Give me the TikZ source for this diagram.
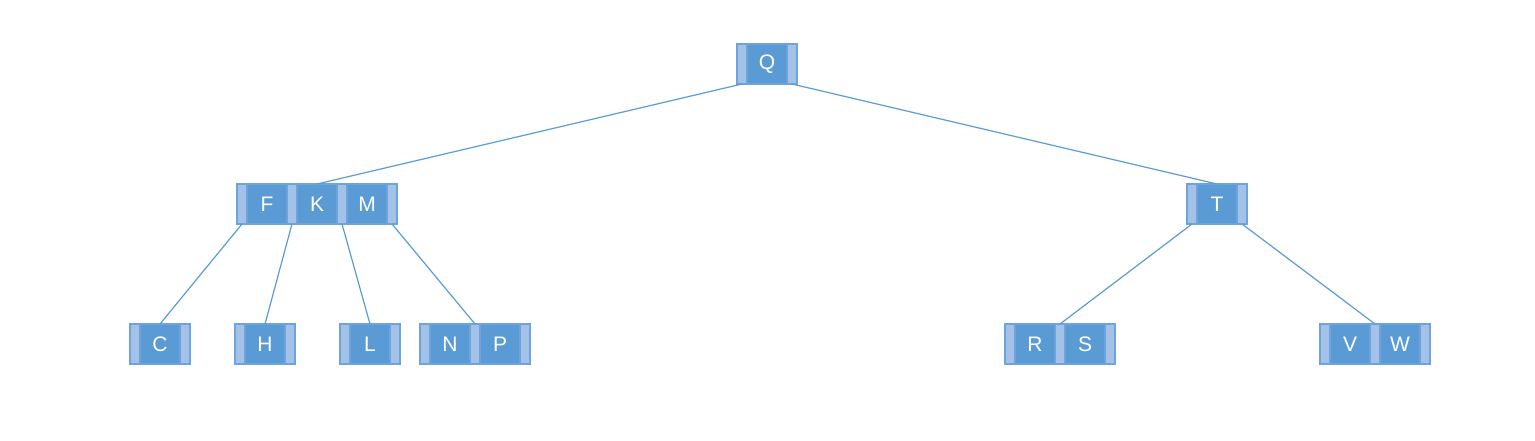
\documentclass[tikz,border=0pt]{standalone}
\usepackage{fontspec}
\setmainfont{Liberation Sans}
\usetikzlibrary{positioning}
\definecolor{keyblue}{HTML}{5B9BD5}
\definecolor{slotblue}{HTML}{A4C2E8}
\definecolor{rimblue}{HTML}{6FA3DC}
\definecolor{linkblue}{HTML}{5B9BD5}
% one b-tree node: name, left x, centre y, keys
\newcommand{\btnode}[4]{%
  \node[slot, anchor=west] (#1-s0) at (#2,#3) {};
  \foreach \lbl [count=\i from 1] in {#4}{
    \pgfmathtruncatemacro{\j}{\i-1}
    \node[keybox, right=0pt of #1-s\j] (#1-k\i) {\lbl};
    \node[slot, right=0pt of #1-k\i] (#1-s\i) {};
  }%
}
\begin{document}
\begin{tikzpicture}[
          x=0.5pt, y=-0.5pt,
          slot/.style={draw=rimblue, fill=slotblue, line width=0.6pt,
            minimum width=5pt, minimum height=20pt, inner sep=0pt, outer sep=0pt},
          keybox/.style={draw=rimblue, fill=keyblue, line width=0.6pt, text=white,
            minimum width=20pt, minimum height=20pt, inner sep=0pt, outer sep=0pt,
            font=\fontsize{10.5}{12}\selectfont},
          link/.style={draw=linkblue, line width=0.6pt}
        ]
        \useasboundingbox (0,0) rectangle (1535,440);
        \btnode{Q}{737}{64}{Q}
        \btnode{FKM}{237}{204}{F,K,M}
        \btnode{T}{1187}{204}{T}
        \btnode{C}{130}{344}{C}
        \btnode{H}{235}{344}{H}
        \btnode{L}{340}{344}{L}
        \btnode{NP}{420}{344}{N,P}
        \btnode{RS}{1005}{344}{R,S}
        \btnode{VW}{1320}{344}{V,W}
        \draw[link] (Q-s0.south) -- (FKM-k2.north);
        \draw[link] (Q-s1.south) -- (T-k1.north);
        \draw[link] (FKM-s0.south) -- (C-k1.north);
        \draw[link] (FKM-s1.south) -- (H-k1.north);
        \draw[link] (FKM-s2.south) -- (L-k1.north);
        \draw[link] (FKM-s3.south) -- (NP-s1.north);
        \draw[link] (T-s0.south) -- (RS-s1.north);
        \draw[link] (T-s1.south) -- (VW-s1.north);
\end{tikzpicture}
\end{document}
